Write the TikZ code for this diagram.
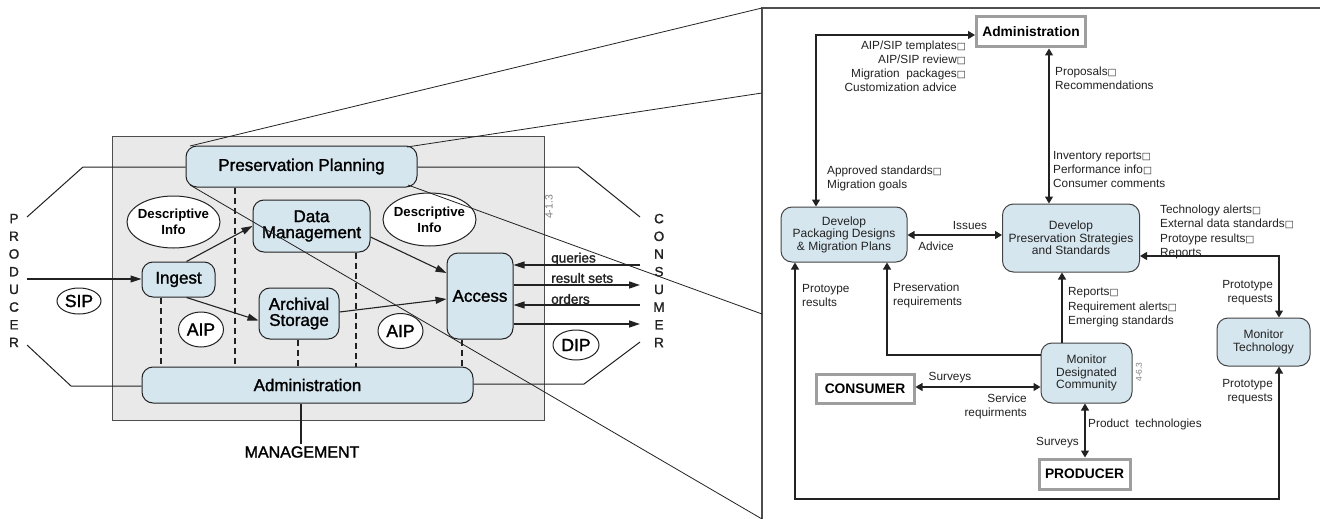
\documentclass[tikz,border=0pt]{standalone}
\usepackage{fontspec}
\setmainfont{Liberation Sans}
\newfontfamily\symf{DejaVu Sans}
\newfontfamily\medf{Liberation Sans}[FakeBold=1.5]
\usetikzlibrary{arrows.meta,shapes.geometric,calc}
\definecolor{paneblue}{HTML}{D6E6EF}
\definecolor{ink}{HTML}{222222}
\definecolor{shade}{HTML}{E9E9E9}
\definecolor{edgegray}{HTML}{9E9E9E}
\newcommand{\sqb}{{\symf\fontsize{9.5}{9.5}\selectfont\char"25A1}}
\newcommand{\nosqb}{\phantom{\sqb}}
\tikzset{
  lbox/.style={draw=ink,line width=1pt,fill=paneblue,rounded corners=11pt,inner sep=0pt,align=center,text=black,font=\medf\fontsize{17}{16}\selectfont},
  rbox/.style={draw=ink!85,line width=1pt,fill=paneblue,rounded corners=11pt,inner sep=0pt,align=center,text=ink,font=\fontsize{12}{12.5}\selectfont},
  oval/.style={ellipse,draw=ink,line width=1pt,fill=white,inner xsep=-12pt,inner ysep=-8pt,align=center,text=black},
  extbox/.style={draw=edgegray,line width=3pt,fill=white,inner sep=0pt,text=black,font=\bfseries\fontsize{13.8}{15}\selectfont},
  lline/.style={draw=ink,line width=1pt},
  dashline/.style={draw=ink,line width=1.4pt,dash pattern=on 6pt off 4pt},
  larrow/.style={draw=ink,line width=1.1pt,-{Triangle[length=11pt,width=7pt]}},
  rarrow/.style={draw=ink,line width=1.1pt,-{Triangle[length=7pt,width=8pt]}},
  rdouble/.style={draw=ink,line width=1.1pt,{Triangle[length=7pt,width=8pt]}-{Triangle[length=7pt,width=8pt]}},
  zoomline/.style={draw=ink,line width=.8pt},
  flowlabel/.style={text=ink,inner sep=0pt,font=\fontsize{11.8}{14.2}\selectfont},
  leftlabel/.style={flowlabel,anchor=north west,align=left},
  rightlabel/.style={flowlabel,anchor=north east,align=right},
  arrowtext/.style={text=ink,inner sep=0pt,font=\medf\fontsize{13.6}{15}\selectfont,anchor=west},
  sidetext/.style={text=ink,inner sep=0pt,align=center,font=\medf\fontsize{13.5}{17.7}\selectfont},
  stamp/.style={text=gray,inner sep=0pt,rotate=90},
  ovalsmall/.style={font=\bfseries\fontsize{13.2}{16}\selectfont},
  ovalbig/.style={font=\medf\fontsize{17.5}{18}\selectfont},
}
\begin{document}
\begin{tikzpicture}[x=1pt,y=-1pt]
\useasboundingbox (0,0) rectangle (1320,519);
\fill[white] (0,0) rectangle (1320,519);

% --- left: shaded background
\node[draw=ink!80,line width=1pt,fill=shade,minimum width=432pt,minimum height=284pt,inner sep=0pt] (field) at (328,278) {};
\node[stamp,font=\fontsize{10.5}{11}\selectfont] (stampa) at (549,207) {4-1.3};

% --- left: functional boxes
\node[lbox,minimum width=231pt,minimum height=41pt] (pp) at (301.5,166.5) {Preservation Planning};
\node[lbox,minimum width=117pt,minimum height=52pt] (dm) at (311.5,226) {Data\\Management};
\node[lbox,minimum width=73pt,minimum height=35pt] (ingest) at (178.5,279.5) {Ingest};
\node[lbox,minimum width=80pt,minimum height=51pt] (as) at (299,313.5) {Archival\\Storage};
\node[lbox,minimum width=66pt,minimum height=86pt] (access) at (480,296) {Access};
\node[lbox,minimum width=331pt,minimum height=36pt] (admin) at (307.5,385) {Administration};

% --- left: ovals
\node[oval,ovalsmall,minimum width=93pt,minimum height=52pt] (d1) at (173.5,222) {Descriptive\\Info};
\node[oval,ovalsmall,minimum width=93pt,minimum height=53pt] (d2) at (429.5,219.5) {Descriptive\\Info};
\node[oval,ovalbig,minimum width=44pt,minimum height=26pt] (sip) at (79,301) {SIP};
\node[oval,ovalbig,minimum width=45pt,minimum height=35pt] (aip1) at (201,329.5) {AIP};
\node[oval,ovalbig,minimum width=45pt,minimum height=35pt] (aip2) at (400.5,331) {AIP};
\node[oval,ovalbig,minimum width=46pt,minimum height=30pt] (dip) at (576,345) {DIP};

% --- left: side labels
\node[sidetext] (producer) at (14,280.5) {P\\R\\O\\D\\U\\C\\E\\R};
\node[sidetext] (consumer) at (659,280.5) {C\\O\\N\\S\\U\\M\\E\\R};
\node[inner sep=0pt,text=black,font=\medf\fontsize{16}{18}\selectfont] (mgmt) at (302,452) {MANAGEMENT};

% --- left: free ends and rails
\coordinate (pl) at (27,217);
\coordinate (pb) at (27,345);
\coordinate (cl) at (640,217);
\coordinate (cb) at (640,342);
\coordinate (prodin) at (27,279);
\coordinate (bendpl) at (83,167);
\coordinate (bendcl) at (578,167);
\coordinate (bendpb) at (71,386);
\coordinate (bendcb) at (584,384);
\coordinate (qy) at (640,265);
\coordinate (ry) at (640,285);
\coordinate (oy) at (640,305);
\coordinate (dy) at (640,324);
\coordinate (dx1) at (161,0);
\coordinate (dx2) at (235,0);
\coordinate (dx3) at (298,0);
\coordinate (dx4) at (356,0);
\coordinate (dx5) at (462,0);
\coordinate (mx) at (301,0);

% --- left: outlines to the outside
\draw[lline] (pp.west |- bendpl) -- (bendpl) -- (pl);
\draw[lline] (pp.east |- bendcl) -- (bendcl) -- (cl);
\draw[lline] (admin.west |- bendpb) -- (bendpb) -- (pb);
\draw[lline] (admin.east |- bendcb) -- (bendcb) -- (cb);
\draw[lline,line width=1.3pt] (mx |- admin.south) -- ($(mx |- mgmt.north)+(0,-2)$);

% --- left: dashed links
\draw[dashline] (dx1 |- ingest.south) -- (dx1 |- admin.north);
\draw[dashline] (dx2 |- pp.south) -- (dx2 |- admin.north);
\draw[dashline] (dx3 |- as.south) -- (dx3 |- admin.north);
\draw[dashline] (dx4 |- dm.south) -- (dx4 |- admin.north);
\draw[dashline] (dx5 |- access.south) -- (dx5 |- admin.north);

% --- left: flows
\draw[larrow] (prodin) -- (ingest.west |- prodin);
\draw[larrow] ($(ingest.north)+(8,0)$) -- (dm.west);
\draw[larrow] ($(ingest.south)+(8,0)$) -- ($(as.west)+(0,7)$);
\draw[larrow] ($(dm.east)+(0,11)$) -- ($(access.west)+(0,-23)$);
\draw[larrow] ($(as.east)+(0,-1.5)$) -- ($(access.west)+(0,3)$);
\draw[larrow] (qy) -- (access.east |- qy);
\draw[larrow,line width=1.5pt] (access.east |- ry) -- (ry);
\draw[larrow] (oy) -- (access.east |- oy);
\draw[larrow,line width=1.5pt] (access.east |- dy) -- (dy);
\node[arrowtext] (tq) at (551,259) {queries};
\node[arrowtext] (tr) at (551,278) {result sets};
\node[arrowtext] (to) at (551,299) {orders};

% --- right: frame
\coordinate (frametl) at (762,8);
\coordinate (frametr) at (1320,8);
\coordinate (framebl) at (762,519);
\coordinate (pp2) at (762,93);
\coordinate (pp3) at (762,314);
\draw[draw=ink!80,line width=1.2pt] (framebl) -- (frametl) -- (frametr);

% --- zoom lines
\draw[zoomline] (190,146) -- (frametl);
\draw[zoomline] (407,147) -- (pp2);
\draw[zoomline] (408,185) -- (pp3);
\draw[zoomline] (190,185) -- (framebl);

% --- right: boxes
\node[extbox,minimum width=109pt,minimum height=30pt] (radm) at (1031,32) {Administration};
\node[extbox,minimum width=98pt,minimum height=29pt] (rcons) at (865,388.5) {CONSUMER};
\node[extbox,minimum width=91pt,minimum height=30pt] (rprod) at (1084.5,474) {PRODUCER};
\node[rbox,minimum width=126pt,minimum height=55pt] (dpd) at (844,234.5) {Develop\\Packaging Designs\\\&\ Migration Plans};
\node[rbox,minimum width=137pt,minimum height=68pt] (dps) at (1071,238) {Develop\\Preservation Strategies\\and Standards};
\node[rbox,minimum width=91pt,minimum height=60pt] (mdc) at (1086.5,373) {Monitor\\Designated\\Community};
\node[rbox,minimum width=93pt,minimum height=48pt] (mt) at (1263.5,342) {Monitor\\Technology};
\node[stamp,font=\fontsize{8.5}{9}\selectfont] (stampb) at (1139,372) {4-6.3};

% --- right: routing
\coordinate (topy) at (0,35);
\coordinate (px) at (816,0);
\coordinate (vx) at (1049,0);
\coordinate (tx) at (1279,0);
\coordinate (ty) at (0,256);
\coordinate (by) at (0,499);
\coordinate (bx) at (795,0);
\coordinate (rqx) at (887,0);
\coordinate (rqy) at (0,355);
\coordinate (repx) at (1062,0);
\coordinate (iy) at (0,235);
\coordinate (sy) at (0,387);
\coordinate (sx) at (1085,0);

\draw[rdouble] (radm.west |- topy) -| (px |- dpd.north);
\draw[rdouble] (vx |- radm.south) -- (vx |- dps.north);
\draw[rdouble] (dpd.east |- iy) -- (dps.west |- iy);
\draw[rdouble] (dps.east |- ty) -| (tx |- mt.north);
\draw[rdouble] (tx |- mt.south) |- (bx |- by) -- (bx |- dpd.south);
\draw[rarrow] (mdc.west |- rqy) -| (rqx |- dpd.south);
\draw[rarrow] (repx |- mdc.north) -- (repx |- dps.south);
\draw[rdouble] (rcons.east |- sy) -- (mdc.west |- sy);
\draw[rdouble] (sx |- mdc.south) -- (sx |- rprod.north);

% --- right: labels
\node[rightlabel] (l1) at (966,40.5) {AIP/SIP templates\sqb\\AIP/SIP review\sqb\\Migration\ \ packages\sqb\\Customization advice\nosqb};
\node[leftlabel] (l2) at (1055,67) {Proposals\sqb\\Recommendations};
\node[leftlabel] (l3) at (827,166) {Approved standards\sqb\\Migration goals};
\node[leftlabel] (l4) at (1053,151) {Inventory reports\sqb\\Performance info\sqb\\Consumer comments};
\node[leftlabel] (l5) at (1160,205) {Technology alerts\sqb\\External data standards\sqb\\Protoype results\sqb\\Reports};
\node[flowlabel] (l6) at (970,225) {Issues};
\node[flowlabel] (l7) at (936,246) {Advice};
\node[leftlabel] (l8) at (802,284) {Protoype\\results};
\node[leftlabel] (l9) at (893,283) {Preservation\\requirements};
\node[leftlabel] (l10) at (1068,287.5) {Reports\sqb\\Requirement alerts\sqb\\Emerging standards};
\node[rightlabel] (l11) at (1273,280) {Prototype\\requests};
\node[rightlabel] (l12) at (1273,379) {Prototype\\requests};
\node[flowlabel] (l13) at (950,378) {Surveys};
\node[rightlabel] (l14) at (1027,394) {Service\\requirments};
\node[flowlabel,anchor=west] (l15) at (1088,424) {Product\ \ technologies};
\node[flowlabel,anchor=east] (l16) at (1079,443) {Surveys};
\end{tikzpicture}
\end{document}
